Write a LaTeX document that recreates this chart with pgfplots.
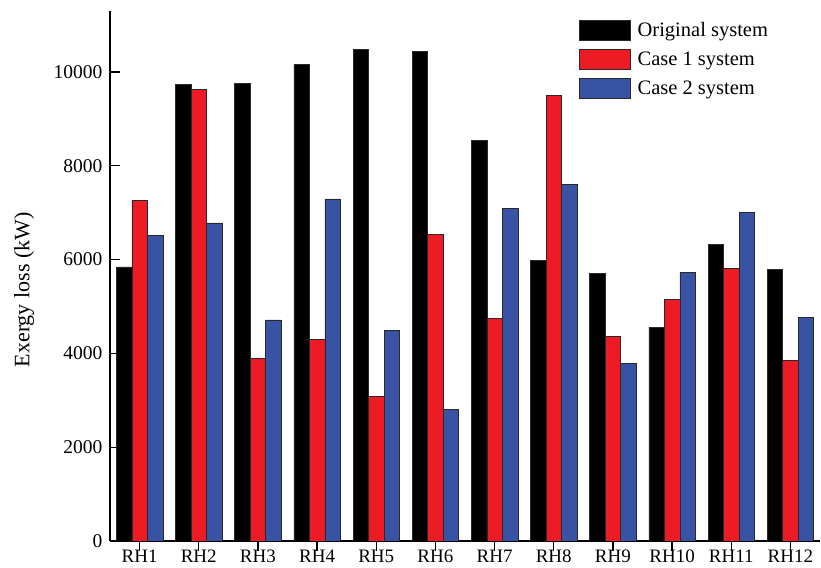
\documentclass[border=0pt]{standalone}
\usepackage{pgfplots}
\pgfplotsset{compat=1.18}
\usepackage{fontspec}
\setmainfont{Liberation Serif}
\definecolor{barred}{RGB}{237,28,36}
\definecolor{barblue}{RGB}{57,83,164}
\definecolor{edge}{RGB}{40,40,40}
\begin{document}
\begin{tikzpicture}[font=\fontsize{19.5}{23}\selectfont]
\path[use as bounding box] (-110pt,-26pt) rectangle (711pt,541pt);
\begin{axis}[
  scale only axis,
  width=710pt, height=530pt,
  xmin=0.5, xmax=12.5,
  ymin=0, ymax=11300,
  axis x line*=bottom, axis y line*=left,
  axis line style={line width=1.3pt},
  tick style={line width=1.3pt, black},
  tick align=inside,
  major tick length=10pt,
  xtick={1,...,12},
  xticklabels={RH1,RH2,RH3,RH4,RH5,RH6,RH7,RH8,RH9,RH10,RH11,RH12},
  ytick={0,2000,4000,6000,8000,10000},
  scaled y ticks=false,
  /pgf/number format/assume math mode=true,
  /pgf/number format/1000 sep={},
  tick label style={font=\fontsize{19}{22}\selectfont},
  yticklabel style={xshift=-4pt, font=\fontsize{19.5}{23}\selectfont},
  xticklabel style={inner sep=2pt, yshift=3pt},
  ylabel={Exergy loss (kW)},
  every axis y label/.style={at={(axis description cs:-0.121,0.474)}, anchor=center, rotate=90, font=\fontsize{22}{26}\selectfont},
  ybar=0pt, bar width=15.5pt,
  legend style={draw=none, fill=none, at={(0.6606,0.983)}, anchor=north west, row sep=8.5pt,
     font=\fontsize{20.5}{24}\selectfont, inner sep=0pt, outer sep=0pt,
     /tikz/every odd column/.append style={column sep=5pt}},
  legend image code/.code={\draw[#1, draw=edge, line width=0.6pt] (0pt,-10pt) rectangle (51pt,10pt);},
  legend cell align=left,
]
\addplot[fill=black, draw=edge, line width=0.6pt] coordinates {
(1,5843) (2,9743) (3,9750) (4,10156) (5,10476) (6,10434) (7,8547) (8,5985) (9,5708) (10,4562) (11,6320) (12,5793)};
\addplot[fill=barred, draw=edge, line width=0.6pt] coordinates {
(1,7259) (2,9629) (3,3892) (4,4306) (5,3081) (6,6533) (7,4754) (8,9501) (9,4355) (10,5152) (11,5807) (12,3843)};
\addplot[fill=barblue, draw=edge, line width=0.6pt] coordinates {
(1,6512) (2,6783) (3,4712) (4,7295) (5,4484) (6,2804) (7,7095) (8,7601) (9,3793) (10,5722) (11,7003) (12,4761)};
\legend{Original system, Case 1 system, Case 2 system}
\end{axis}
\end{tikzpicture}
\end{document}
